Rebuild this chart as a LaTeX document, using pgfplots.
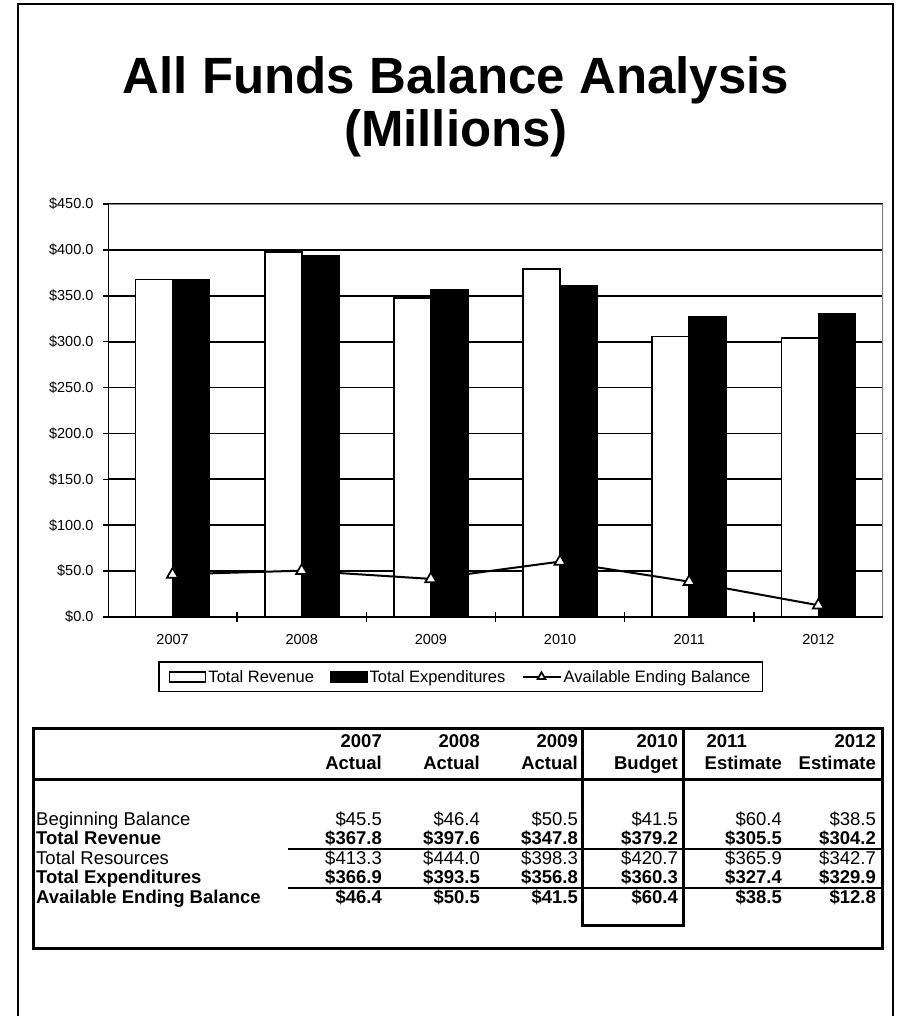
\documentclass[border=0pt]{standalone}
\usepackage{pgfplots}
\pgfplotsset{compat=1.18}
\usepackage{fontspec}
\setmainfont{Liberation Sans}

\pgfplotsset{
  barleg/.style={legend image code/.code={\draw[##1, line width=1.7pt] (0pt,-5pt) rectangle (36pt,5pt);}},
  lineleg/.style={legend image code/.code={\draw[##1, line width=2.2pt, mark size=4.5pt, mark repeat=2, mark phase=2]
      plot coordinates {(0pt,0pt)(19pt,0pt)(38pt,0pt)};}},
}
\tikzset{
  tr/.style={anchor=base east, inner sep=0pt, font=\fontsize{18.5}{22}\selectfont},
  tb/.style={anchor=base east, inner sep=0pt, font=\fontsize{18.5}{22}\selectfont\bfseries},
}

\begin{document}
\begin{tikzpicture}
% page frame and title (1pt = 1px of the reference)
\begin{scope}[x=1pt,y=-1pt]
\useasboundingbox (0,0) rectangle (905,1016);
\draw[line width=1.5pt] (18,1016) -- (18,4) -- (893,4) -- (893,1016);
\node[font=\fontsize{51}{60}\selectfont\bfseries, anchor=base] at (456,94) {All Funds Balance Analysis};
\node[font=\fontsize{51}{60}\selectfont\bfseries, anchor=base] at (456,147) {(Millions)};
\end{scope}

\begin{axis}[
    at={(108pt,-617pt)}, anchor=south west,
    scale only axis, width=775pt, height=413pt,
    xmin=0.5, xmax=6.5, ymin=0, ymax=450,
    axis line style={draw=none},
    tick pos=left, tick align=center,
    major tick length=10pt, minor tick length=10pt,
    xtick={1,...,6}, xticklabels={2007,2008,2009,2010,2011,2012},
    major x tick style={draw=none},
    minor xtick={1.5,2.5,3.5,4.5,5.5},
    minor x tick style={black, line width=1.5pt},
    ytick={0,50,...,450},
    y tick style={black, line width=1.5pt},
    ymajorgrids, major grid style={black, line width=1.7pt},
    /pgf/number format/assume math mode=true,
    yticklabel={\$\pgfmathprintnumber[fixed,fixed zerofill,precision=1]{\tick}},
    ticklabel style={font=\fontsize{14.5}{17}\selectfont},
    xticklabel style={yshift=-9pt},
    yticklabel style={xshift=-6pt},
    legend style={at={(axis description cs:0.455,-0.107)}, anchor=north,
        legend columns=-1, draw=black, line width=1.7pt,
        font=\fontsize{16.5}{19}\selectfont, inner xsep=10pt, inner ysep=6pt,
        /tikz/every odd column/.append style={column sep=0pt},
        /tikz/every even column/.append style={column sep=14pt}},
]
\addplot[ybar, bar width=37pt, bar shift=-18.5pt, fill=white, draw=black, line width=1.7pt, barleg]
    coordinates {(1,367.8)(2,397.6)(3,347.8)(4,379.2)(5,305.5)(6,304.2)};
\addplot[ybar, bar width=37pt, bar shift=18.5pt, fill=black, draw=black, line width=1.7pt, barleg]
    coordinates {(1,366.9)(2,393.5)(3,356.8)(4,360.3)(5,327.4)(6,329.9)};
\addplot[black, line width=2pt, mark=triangle*, mark size=6.5pt, mark options={fill=white, solid, line width=1.7pt}, lineleg]
    coordinates {(1,46.4)(2,50.5)(3,41.5)(4,60.4)(5,38.5)(6,12.8)};
\draw[gray, line width=1.5pt] (rel axis cs:0,1) -- (rel axis cs:1,1) -- (rel axis cs:1,0);
\draw[black, line width=2pt] (rel axis cs:0,1) -- (rel axis cs:0,0) -- (rel axis cs:1,0);
\legend{Total Revenue,Total Expenditures,Available Ending Balance}
\end{axis}

% summary table
\begin{scope}[x=1pt,y=-1pt]
\draw[line width=3pt] (33,728) rectangle (882,948);
\draw[line width=3pt] (33,779) -- (882,779);
\draw[line width=3pt] (582,728) -- (582,925) -- (683,925) -- (683,728);
\draw[line width=1.5pt] (288,849) -- (882,849);
\draw[line width=1.5pt] (288,888) -- (882,888);
\foreach \x/\a in {382/2007, 480/2008, 578/2009, 678/2010, 876/2012}
  \node[tb] at (\x,747) {\a};
\node[tb] at (747,747) {2011};
\foreach \x/\b in {382/Actual, 480/Actual, 578/Actual, 678/Budget, 782/Estimate, 876/Estimate}
  \node[tb] at (\x,769) {\b};
\node[tr, anchor=base west] at (36,825) {Beginning Balance};
\node[tb, anchor=base west] at (36,844.5) {Total Revenue};
\node[tr, anchor=base west] at (36,864) {Total Resources};
\node[tb, anchor=base west] at (36,883.5) {Total Expenditures};
\node[tb, anchor=base west] at (36,903) {Available Ending Balance};
\foreach \x/\v in {382/45.5, 480/46.4, 578/50.5, 678/41.5, 782/60.4, 876/38.5}
  \node[tr] at (\x,825) {\$\v};
\foreach \x/\v in {382/367.8, 480/397.6, 578/347.8, 678/379.2, 782/305.5, 876/304.2}
  \node[tb] at (\x,844.5) {\$\v};
\foreach \x/\v in {382/413.3, 480/444.0, 578/398.3, 678/420.7, 782/365.9, 876/342.7}
  \node[tr] at (\x,864) {\$\v};
\foreach \x/\v in {382/366.9, 480/393.5, 578/356.8, 678/360.3, 782/327.4, 876/329.9}
  \node[tb] at (\x,883.5) {\$\v};
\foreach \x/\v in {382/46.4, 480/50.5, 578/41.5, 678/60.4, 782/38.5, 876/12.8}
  \node[tb] at (\x,903) {\$\v};
\end{scope}
\end{tikzpicture}
\end{document}
